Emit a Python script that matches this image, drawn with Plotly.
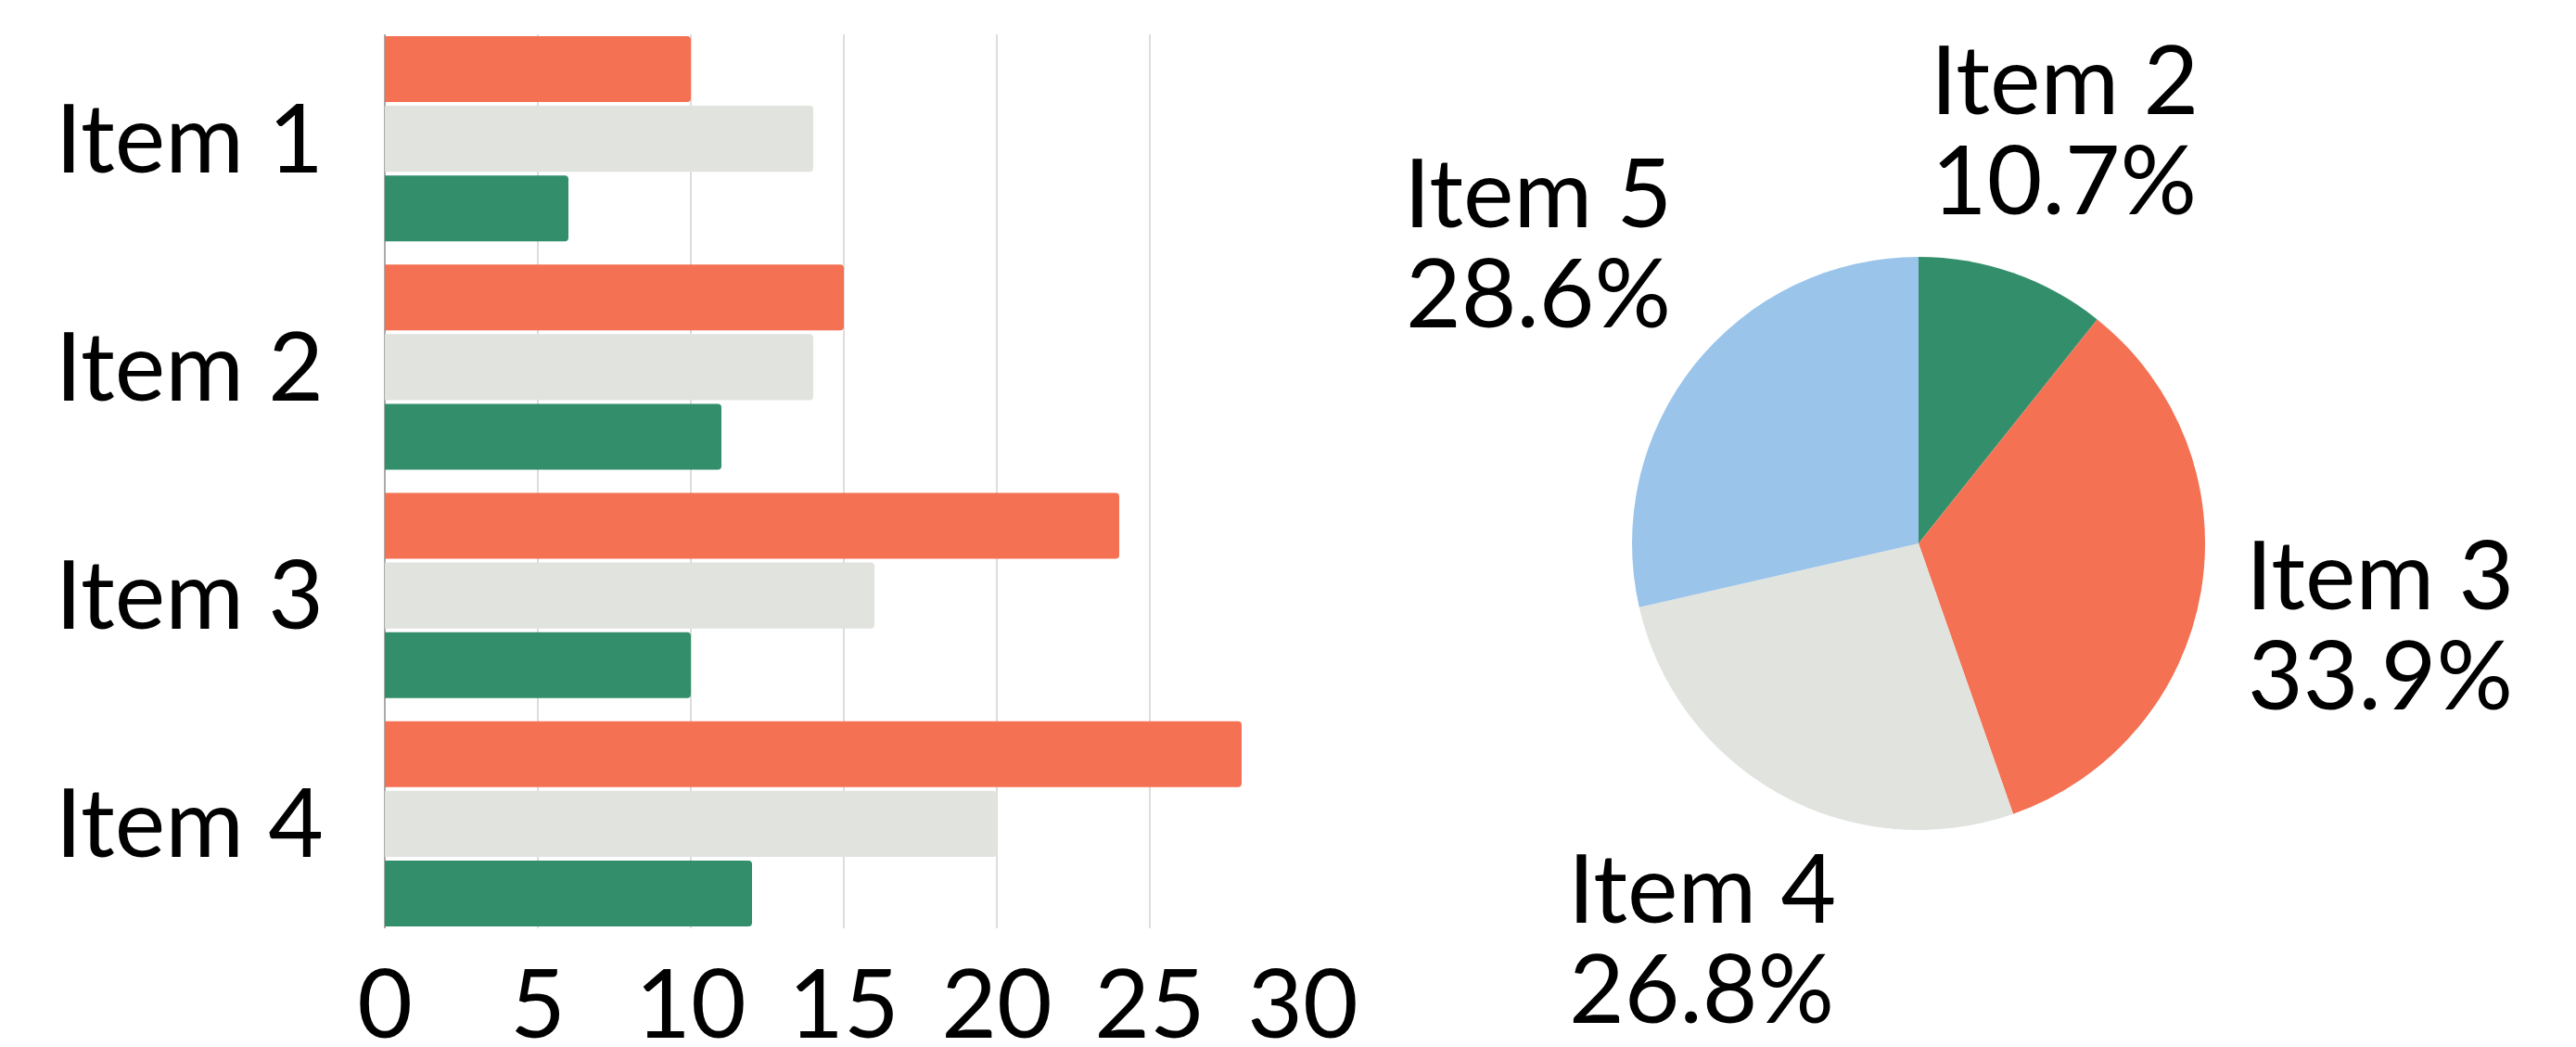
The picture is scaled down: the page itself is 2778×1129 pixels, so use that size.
import math
import plotly.graph_objects as go

categories = ["Item 1", "Item 2", "Item 3", "Item 4"]
series_orange = [10, 15, 24, 28]
series_grey = [14, 14, 16, 20]
series_green = [6, 11, 10, 12]
x_ticks = [0, 5, 10, 15, 20, 25, 30]

pie_labels = ["Item 2", "Item 3", "Item 4", "Item 5"]
pie_values = [6, 19, 15, 16]

ORANGE = "#f47153"
GREY = "#e1e3de"
GREEN = "#338f6b"
BLUE = "#9ac4ea"
PIE_COLORS = [GREEN, ORANGE, GREY, BLUE]
FONT = "Lato"
FS = 103

W, H = 2778, 1129
OFF = 8  # page body margin compensation

# pie geometry (page pixels from top-left)
PCX, PCY, PR = 2069 - OFF, 586 - OFF, 309

fig = go.Figure()
for name, vals, col in [("A", series_orange, ORANGE), ("B", series_grey, GREY), ("C", series_green, GREEN)]:
    fig.add_trace(go.Bar(y=categories, x=vals, orientation="h", name=name,
                         marker=dict(color=col, line=dict(width=0), cornerradius=4),
                         xaxis="x", yaxis="y"))

fig.add_trace(go.Pie(labels=pie_labels, values=pie_values, sort=False, direction="clockwise",
                     rotation=0, textinfo="none", automargin=False,
                     marker=dict(colors=PIE_COLORS, line=dict(width=0)),
                     domain=dict(x=[(PCX - PR) / W, (PCX + PR) / W],
                                 y=[(H - PCY - PR) / H, (H - PCY + PR) / H]),
                     showlegend=False))

# outside pie labels, positioned along each slice's mid angle
total = sum(pie_values)
half_w, half_h, pad, line_gap = 124, 91, 70, 108
annotations = []
cum = 0
for lab, v in zip(pie_labels, pie_values):
    mid = (cum + v / 2) / total * 2 * math.pi
    cum += v
    sx, sy = math.sin(mid), -math.cos(mid)
    edge = min(half_w / abs(sx) if abs(sx) > 1e-9 else 1e9,
               half_h / abs(sy) if abs(sy) > 1e-9 else 1e9)
    dist = PR + pad + edge
    cx, cy = PCX + sx * dist, PCY + sy * dist
    for txt, yy in [(lab, cy - line_gap / 2), (f"{v / total * 100:.1f}%", cy + line_gap / 2)]:
        annotations.append(dict(x=cx / W, y=(H - yy) / H, xref="paper", yref="paper",
                                text=txt, showarrow=False, xanchor="center", yanchor="middle",
                                font=dict(size=FS, family=FONT, color="black")))

d = 0.0425
fig.update_layout(
    width=W, height=H,
    margin=dict(l=0, r=0, t=0, b=0),
    paper_bgcolor="white", plot_bgcolor="white",
    barmode="group", bargap=0.085, bargroupgap=0.053,
    showlegend=False,
    font=dict(family=FONT, color="black", size=FS),
    annotations=annotations,
    xaxis=dict(domain=[(415 - OFF) / W, (1405 - OFF) / W], range=[0, 30], tickvals=x_ticks,
               showgrid=True, gridcolor="#dddddd", gridwidth=1.5, zeroline=True,
               zerolinecolor="#aaaaaa", zerolinewidth=1.5, showline=False, automargin=False,
               ticks="", tickfont=dict(size=FS), ticklabelstandoff=14),
    yaxis=dict(domain=[(H - 1001 + OFF) / H, (H - 37 + OFF) / H], type="category",
               range=[3.5 - d, -0.5 + d], showgrid=False, zeroline=False, automargin=False,
               showline=False, ticks="", tickfont=dict(size=FS), ticklabelstandoff=65),
)

fig.write_html("out.html")
